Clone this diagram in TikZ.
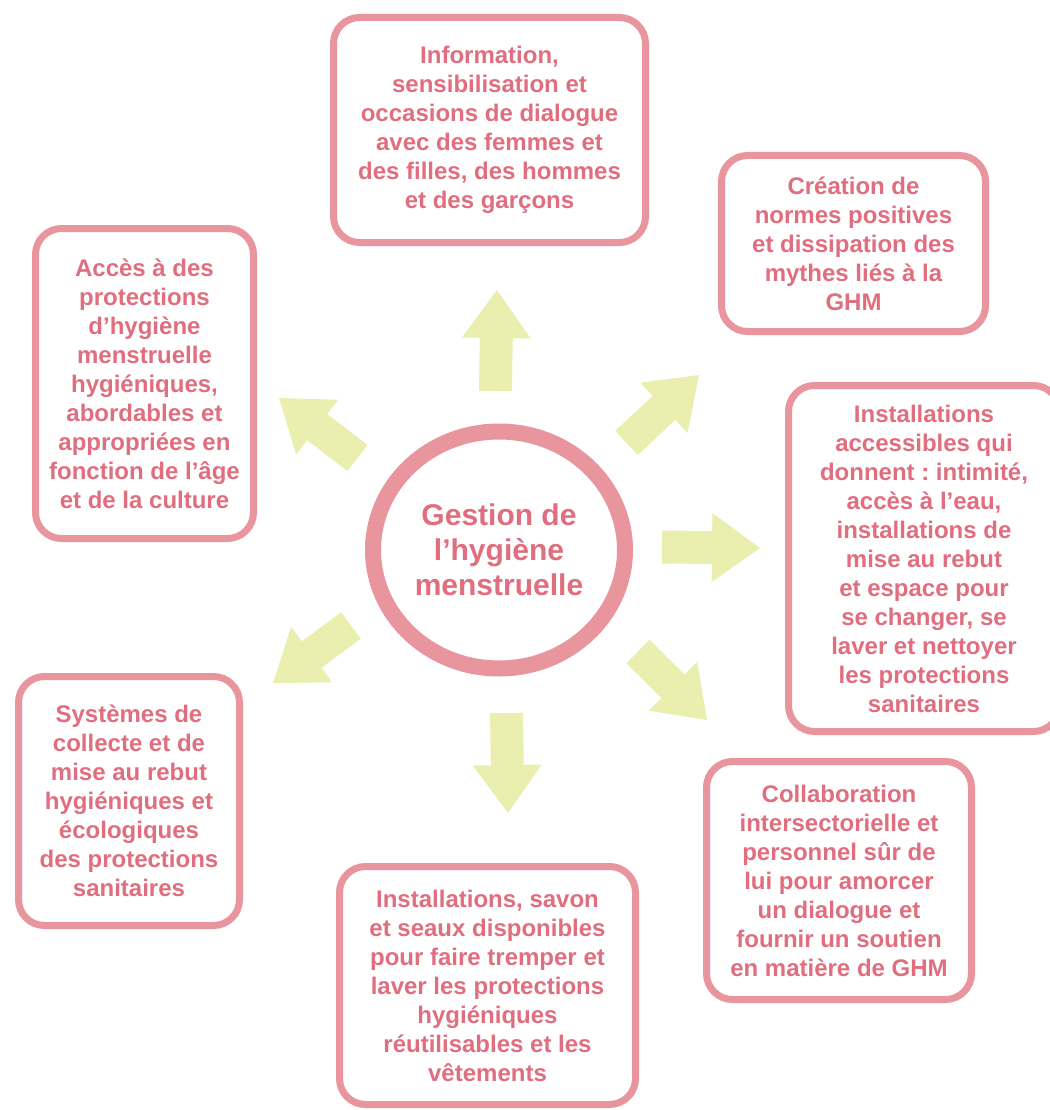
\documentclass[tikz,border=0pt]{standalone}
\usepackage{fontspec}
\setmainfont{Liberation Sans}
\usetikzlibrary{shapes.geometric,calc}
\definecolor{boxc}{HTML}{E8959E}
\definecolor{txtc}{HTML}{E06E7E}
\definecolor{arrowc}{HTML}{EAEFB0}
\frenchspacing
\tikzset{
  infobox/.style={draw=boxc, line width=7pt, fill=white, rounded corners=26pt,
    align=center, text=txtc, inner sep=0pt,
    font=\bfseries\fontsize{24}{29}\selectfont},
  hubnode/.style={ellipse, draw=boxc, line width=16pt, fill=white, inner sep=0pt,
    align=center, text=txtc, font=\bfseries\fontsize{30}{35}\selectfont},
  arrowfill/.style={fill=arrowc, draw=none}
}
% block arrow from tail coordinate #1 to tip coordinate #2
\newcommand\blockarrow[2]{%
  \coordinate (#1-h) at ($(#2)!48pt!(#1)$);
  \path[arrowfill] ($(#1)!16.5pt!90:(#2)$) -- ($(#1-h)!16.5pt!90:(#2)$)
    -- ($(#1-h)!34.5pt!90:(#2)$) -- (#2) -- ($(#1-h)!34.5pt!-90:(#2)$)
    -- ($(#1-h)!16.5pt!-90:(#2)$) -- ($(#1)!16.5pt!-90:(#2)$) -- cycle;}
\begin{document}
\begin{tikzpicture}[x=1pt,y=-1pt]
\useasboundingbox (0,0) rectangle (1049,1110);

\node[hubnode, minimum width=252pt, minimum height=237pt] (hub) at (499,550)
  {Gestion de\\l’hygiène\\menstruelle};

\node[infobox, minimum width=312pt, minimum height=225pt] (top) at (489.5,130)
  {Information,\\sensibilisation et\\occasions de dialogue\\avec des femmes et\\des filles, des hommes\\et des garçons};
\node[infobox, minimum width=264pt, minimum height=176pt] (topright) at (853.5,243.5)
  {Création de\\normes positives\\et dissipation des\\mythes liés à la\\GHM};
\node[infobox, minimum width=271pt, minimum height=346pt] (right) at (924,558.5)
  {Installations\\accessibles qui\\donnent : intimité,\\accès à l’eau,\\installations de\\mise au rebut\\et espace pour\\se changer, se\\laver et nettoyer\\les protections\\sanitaires};
\node[infobox, minimum width=265pt, minimum height=238pt] (botright) at (839,880.5)
  {Collaboration\\intersectorielle et\\personnel sûr de\\lui pour amorcer\\un dialogue et\\fournir un soutien\\en matière de GHM};
\node[infobox, minimum width=296pt, minimum height=238pt] (bottom) at (487.5,985.5)
  {Installations, savon\\et seaux disponibles\\pour faire tremper et\\laver les protections\\hygiéniques\\réutilisables et les\\vêtements};
\node[infobox, minimum width=221pt, minimum height=249pt] (botleft) at (129,801)
  {Systèmes de\\collecte et de\\mise au rebut\\hygiéniques et\\écologiques\\des protections\\sanitaires};
\node[infobox, minimum width=218pt, minimum height=310pt] (topleft) at (144.5,383.5)
  {Accès à des\\protections\\d’hygiène\\menstruelle\\hygiéniques,\\abordables et\\appropriées en\\fonction de l’âge\\et de la culture};

% arrow tails and tips
\coordinate (t1) at (495.5,391);  \coordinate (p1) at (497,290);
\coordinate (t2) at (626.5,443);  \coordinate (p2) at (699,375);
\coordinate (t3) at (662,547);    \coordinate (p3) at (760,548);
\coordinate (t4) at (638,651.5);  \coordinate (p4) at (707,720);
\coordinate (t5) at (506.5,713);  \coordinate (p5) at (508,813);
\coordinate (t6) at (351,625.5);  \coordinate (p6) at (273,683);
\coordinate (t7) at (357.5,458);  \coordinate (p7) at (279,398);

\blockarrow{t1}{p1}
\blockarrow{t2}{p2}
\blockarrow{t3}{p3}
\blockarrow{t4}{p4}
\blockarrow{t5}{p5}
\blockarrow{t6}{p6}
\blockarrow{t7}{p7}
\end{tikzpicture}
\end{document}
